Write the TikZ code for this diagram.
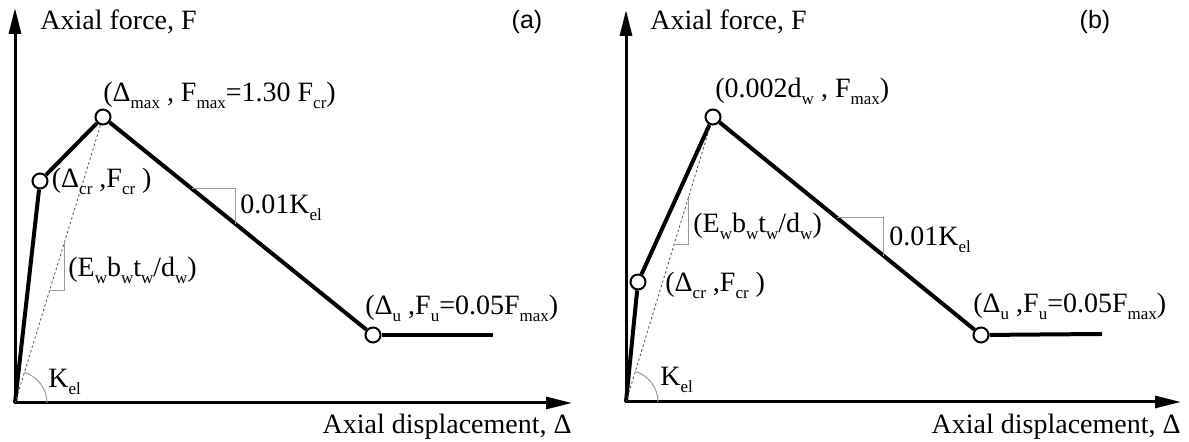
\documentclass[tikz,border=0pt]{standalone}
\usepackage{fontspec}
\setmainfont{Liberation Serif}
\newfontfamily\panelfont{Liberation Sans}
\usetikzlibrary{arrows.meta,positioning,calc}
\newcommand{\lo}[1]{\raisebox{-3.5pt}{\fontsize{8.5}{9}\selectfont #1}}
\tikzset{
  >={Triangle[length=13pt,width=6pt]},
  axis/.style={line width=1.5pt, <->},
  curve/.style={line width=2pt},
  pt/.style={draw, circle, fill=white, line width=1pt, minimum size=7.5pt, inner sep=0pt},
  secant/.style={line width=0.4pt, dash pattern=on 1.2pt off 1.2pt, black!70},
  slope/.style={line width=0.5pt, black!40},
  lbl/.style={inner sep=0pt, anchor=west, font=\fontsize{14}{16}\selectfont},
  tag/.style={inner sep=0pt, font=\panelfont\fontsize{12.5}{14}\selectfont},
}

\begin{document}
\begin{tikzpicture}[x=0.5pt, y=0.5pt]
  \useasboundingbox (0,0) rectangle (1189,442);

  % panel (a)
  \coordinate (Oa) at (15,39);
  \coordinate (Ya) at (15,434);
  \coordinate (Xa) at (572,39);
  \draw[axis] (Ya) -- (Oa) -- (Xa);

  \node[pt] (cra) at (40,261) {};
  \node[pt] (maxa) at (103,325) {};
  \node[pt] (ua) at (373,107) {};
  \coordinate (enda) at (493,107);
  \draw[curve] (Oa) -- (cra);
  \draw[curve] (cra) -- (maxa);
  \draw[curve] (maxa) -- (ua);
  \draw[curve] (ua) -- (enda);
  \draw[secant] (Oa) -- (maxa);

  \coordinate (ea1) at ($(Oa)!0.395!(maxa)$);
  \coordinate (ea2) at ($(Oa)!0.568!(maxa)$);
  \draw[slope] (ea1) -- (ea2 |- ea1) -- (ea2);
  \coordinate (ka1) at ($(maxa)!0.33!(ua)$);
  \coordinate (ka2) at ($(maxa)!0.49!(ua)$);
  \draw[slope] (ka1) -- (ka2 |- ka1) -- (ka2);
  \draw[slope] ($(Oa)+(32,0)$) arc[start angle=0, end angle=73, radius=32];

  \node[lbl] (fa) at (40,420) {Axial force, F};
  \node[tag] (taga) at (527,420) {(a)};
  \node[lbl, right=1.5pt of cra] (lcra) {(Δ\lo{cr} ,F\lo{cr} )};
  \node[lbl] (lmaxa) at (103,347) {(Δ\lo{max} , F\lo{max}=1.30 F\lo{cr})};
  \node[lbl] (lka) at (240,234) {0.01K\lo{el}};
  \node[lbl] (lea) at (68,172) {(E\lo{w}b\lo{w}t\lo{w}/d\lo{w})};
  \node[lbl] (kela) at (48,60) {K\lo{el}};
  \node[lbl] (lua) at (365,134) {(Δ\lo{u} ,F\lo{u}=0.05F\lo{max})};
  \node[lbl, anchor=east] (da) at (572,15) {Axial displacement, Δ};

  % panel (b)
  \coordinate (Ob) at (626,40);
  \coordinate (Yb) at (626,432);
  \coordinate (Xb) at (1181,40);
  \draw[axis] (Yb) -- (Ob) -- (Xb);

  \node[pt] (crb) at (638,160) {};
  \node[pt] (maxb) at (713,325) {};
  \node[pt] (ub) at (981,107) {};
  \coordinate (endb) at (1102,108);
  \draw[curve] (Ob) -- (crb);
  \draw[curve] (crb) -- (maxb);
  \draw[curve] (maxb) -- (ub);
  \draw[curve] (ub) -- (endb);
  \draw[secant] (Ob) -- (maxb);

  \coordinate (eb1) at ($(Ob)!0.551!(maxb)$);
  \coordinate (eb2) at ($(Ob)!0.724!(maxb)$);
  \draw[slope] (eb1) -- (eb2 |- eb1) -- (eb2);
  \coordinate (kb1) at ($(maxb)!0.463!(ub)$);
  \coordinate (kb2) at ($(maxb)!0.638!(ub)$);
  \draw[slope] (kb1) -- (kb2 |- kb1) -- (kb2);
  \draw[slope] ($(Ob)+(32,0)$) arc[start angle=0, end angle=73, radius=32];

  \node[lbl] (fb) at (650,420) {Axial force, F};
  \node[tag] (tagb) at (1095,420) {(b)};
  \node[lbl] (lmaxb) at (715,351) {(0.002d\lo{w} , F\lo{max})};
  \node[lbl] (leb) at (693,216) {(E\lo{w}b\lo{w}t\lo{w}/d\lo{w})};
  \node[lbl] (lcrb) at (665,157) {(Δ\lo{cr} ,F\lo{cr} )};
  \node[lbl] (lkb) at (889,202) {0.01K\lo{el}};
  \node[lbl] (kelb) at (660,62) {K\lo{el}};
  \node[lbl] (lub) at (973,136) {(Δ\lo{u} ,F\lo{u}=0.05F\lo{max})};
  \node[lbl, anchor=east] (db) at (1181,15) {Axial displacement, Δ};
\end{tikzpicture}
\end{document}
